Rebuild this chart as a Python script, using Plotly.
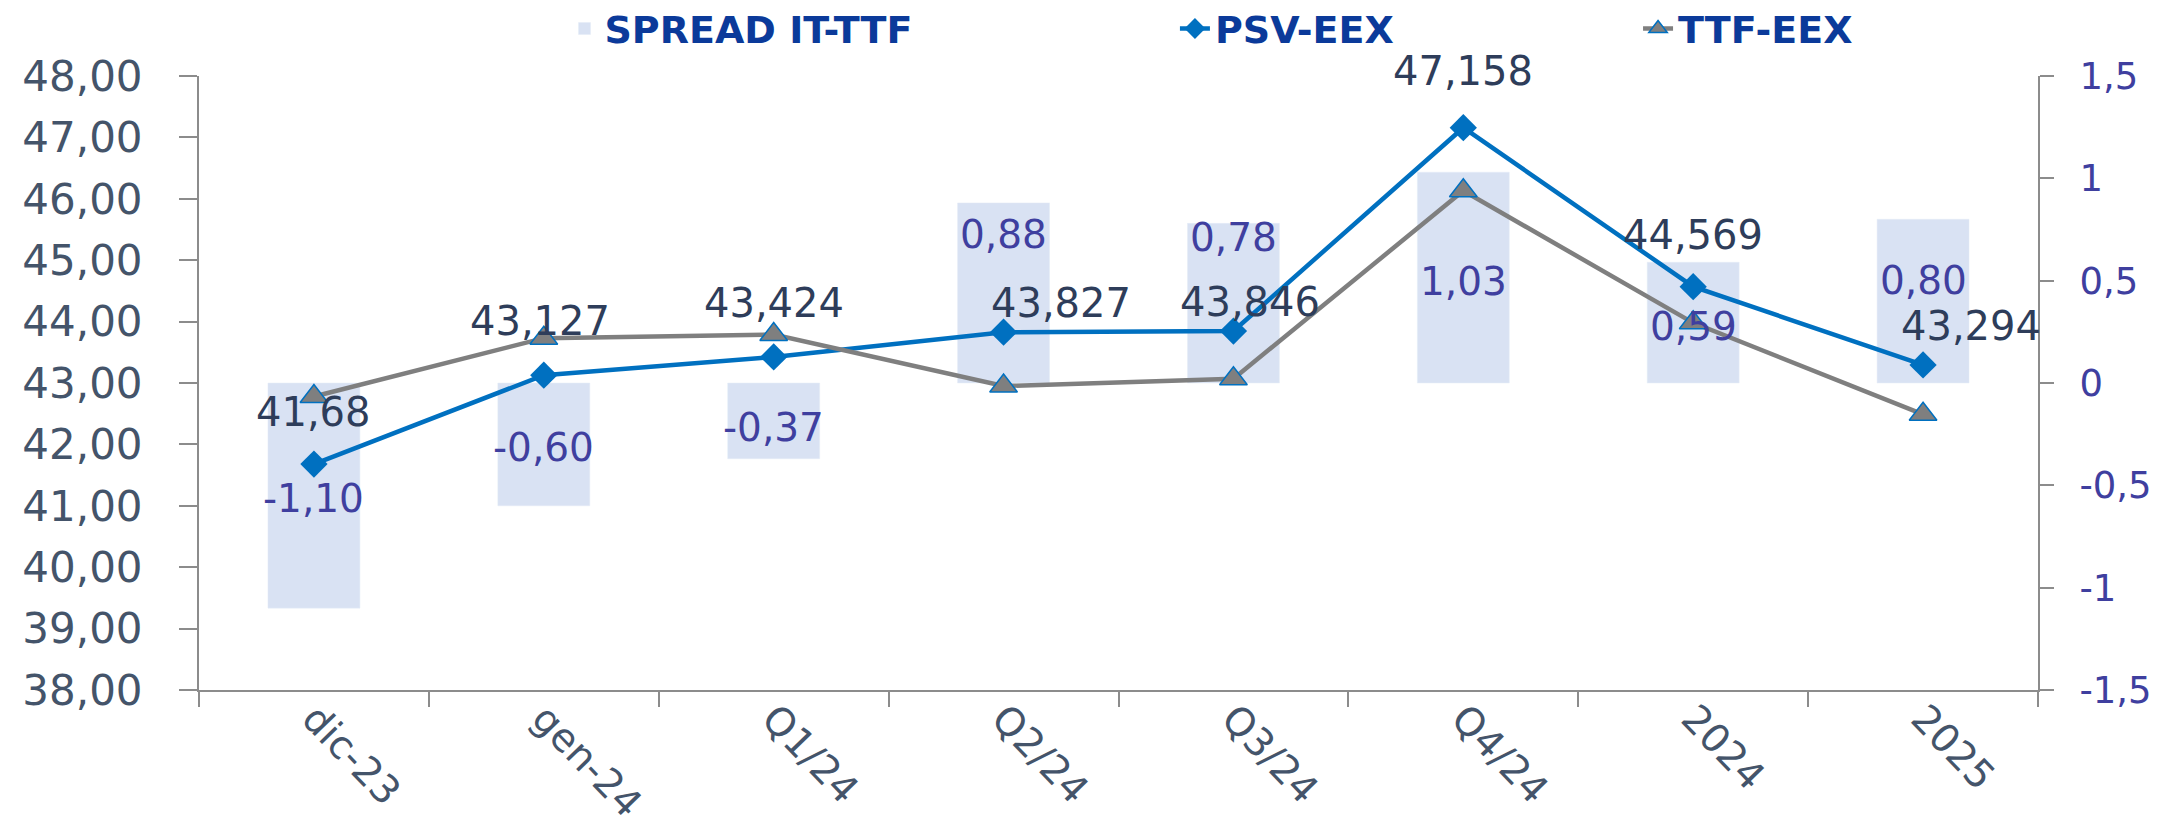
import plotly.graph_objects as go

categories = ["dic-23", "gen-24", "Q1/24", "Q2/24", "Q3/24", "Q4/24", "2024", "2025"]
psv_eex = [41.68, 43.127, 43.424, 43.827, 43.846, 47.158, 44.569, 43.294]
ttf_eex = [42.78, 43.73, 43.79, 42.95, 43.07, 46.13, 43.98, 42.49]
spread_it_ttf = [-1.10, -0.60, -0.37, 0.88, 0.78, 1.03, 0.59, 0.80]

spread_ticks = [-1.5, -1, -0.5, 0, 0.5, 1, 1.5]
spread_ticktext = ["-1,5", "-1", "-0,5", "0", "0,5", "1", "1,5"]

# nudges (px) for the hand-placed data labels of the original
psv_label_dx = [0, -4, 0, 57, 17, 0, 0, 48]
psv_label_dy = [52, 54, 54, 29, 29, 57, 52, 39]
spread_label_dy = [-3, -3, -7, 58, 66, -4, -4, 21]

AXIS_GREY = "#8c8c8c"
SLATE = "#44546A"
PURPLE = "#3F3F9F"
LEGEND_BLUE = "#0B3A9A"
FONT = "DejaVu Sans"

fig = go.Figure()

# bars on the primary (right, spread) axis so the lines stay on top
fig.add_trace(go.Bar(
    x=categories, y=spread_it_ttf, name="SPREAD IT-TTF",
    marker_color="#D9E2F3", width=0.4, yaxis="y", legend="legend",
))
fig.add_trace(go.Scatter(
    x=categories, y=psv_eex, name="PSV-EEX", mode="lines+markers",
    line=dict(color="#0070C0", width=4.5),
    marker=dict(symbol="diamond", size=21, color="#0070C0"),
    yaxis="y2", legend="legend2",
))
fig.add_trace(go.Scatter(
    x=categories, y=ttf_eex, name="TTF-EEX", mode="lines+markers",
    line=dict(color="#7F7F7F", width=4.5),
    marker=dict(symbol="triangle-up", size=24, color="#7F7F7F",
                line=dict(color="#0070C0", width=1.5)),
    yaxis="y2", legend="legend3",
))

# category index is used as the annotation x so "2024"/"2025" stay categories
annotations = []
for i, (v, dx, dy) in enumerate(zip(psv_eex, psv_label_dx, psv_label_dy)):
    annotations.append(dict(
        x=i, y=v, xref="x", yref="y2", text=str(v).replace(".", ","),
        showarrow=False, xshift=dx, yshift=dy, yanchor="middle",
        font=dict(family=FONT, size=40, color="#2E3D5A"),
    ))
for i, (v, dy) in enumerate(zip(spread_it_ttf, spread_label_dy)):
    annotations.append(dict(
        x=i, y=v / 2, xref="x", yref="y", text=f"{v:.2f}".replace(".", ","),
        showarrow=False, yshift=dy, yanchor="middle",
        font=dict(family=FONT, size=39, color=PURPLE),
    ))

legend_style = dict(
    orientation="h", xref="container", yref="container", y=0.975,
    yanchor="middle", xanchor="left", bgcolor="rgba(0,0,0,0)",
    font=dict(family=FONT, size=38, color=LEGEND_BLUE, weight="bold"),
)

fig.update_layout(
    width=2157, height=832,
    margin=dict(l=191, r=127, t=68, b=150, autoexpand=False),
    paper_bgcolor="white", plot_bgcolor="white",
    separators=", ",
    showlegend=True,
    font=dict(family=FONT),
    annotations=annotations,
    legend=dict(legend_style, x=0.258),
    legend2=dict(legend_style, x=0.541),
    legend3=dict(legend_style, x=0.7557),
    xaxis=dict(
        type="category", range=[-0.5, 7.5], tickson="boundaries",
        ticks="outside", ticklen=15, tickcolor=AXIS_GREY, tickwidth=2,
        showline=True, linecolor=AXIS_GREY, linewidth=2,
        showgrid=False, tickangle=46, ticklabelstandoff=-12,
        tickfont=dict(family=FONT, size=39, color=SLATE),
    ),
    yaxis=dict(
        side="right", range=[-1.5, 1.5], tickvals=spread_ticks,
        ticktext=spread_ticktext, ticks="outside", ticklen=14,
        tickcolor=AXIS_GREY, tickwidth=2, showline=True,
        linecolor=AXIS_GREY, linewidth=2, showgrid=False, zeroline=False,
        ticklabelstandoff=18,
        tickfont=dict(family=FONT, size=37, color=PURPLE),
    ),
    yaxis2=dict(
        overlaying="y", side="left", range=[38, 48], dtick=1,
        tickformat=".2f", ticks="outside", ticklen=18,
        tickcolor=AXIS_GREY, tickwidth=2, showline=True,
        linecolor=AXIS_GREY, linewidth=2, showgrid=False, zeroline=False,
        ticklabelstandoff=28,
        tickfont=dict(family=FONT, size=42, color=SLATE),
    ),
)

fig.write_html("out.html")
